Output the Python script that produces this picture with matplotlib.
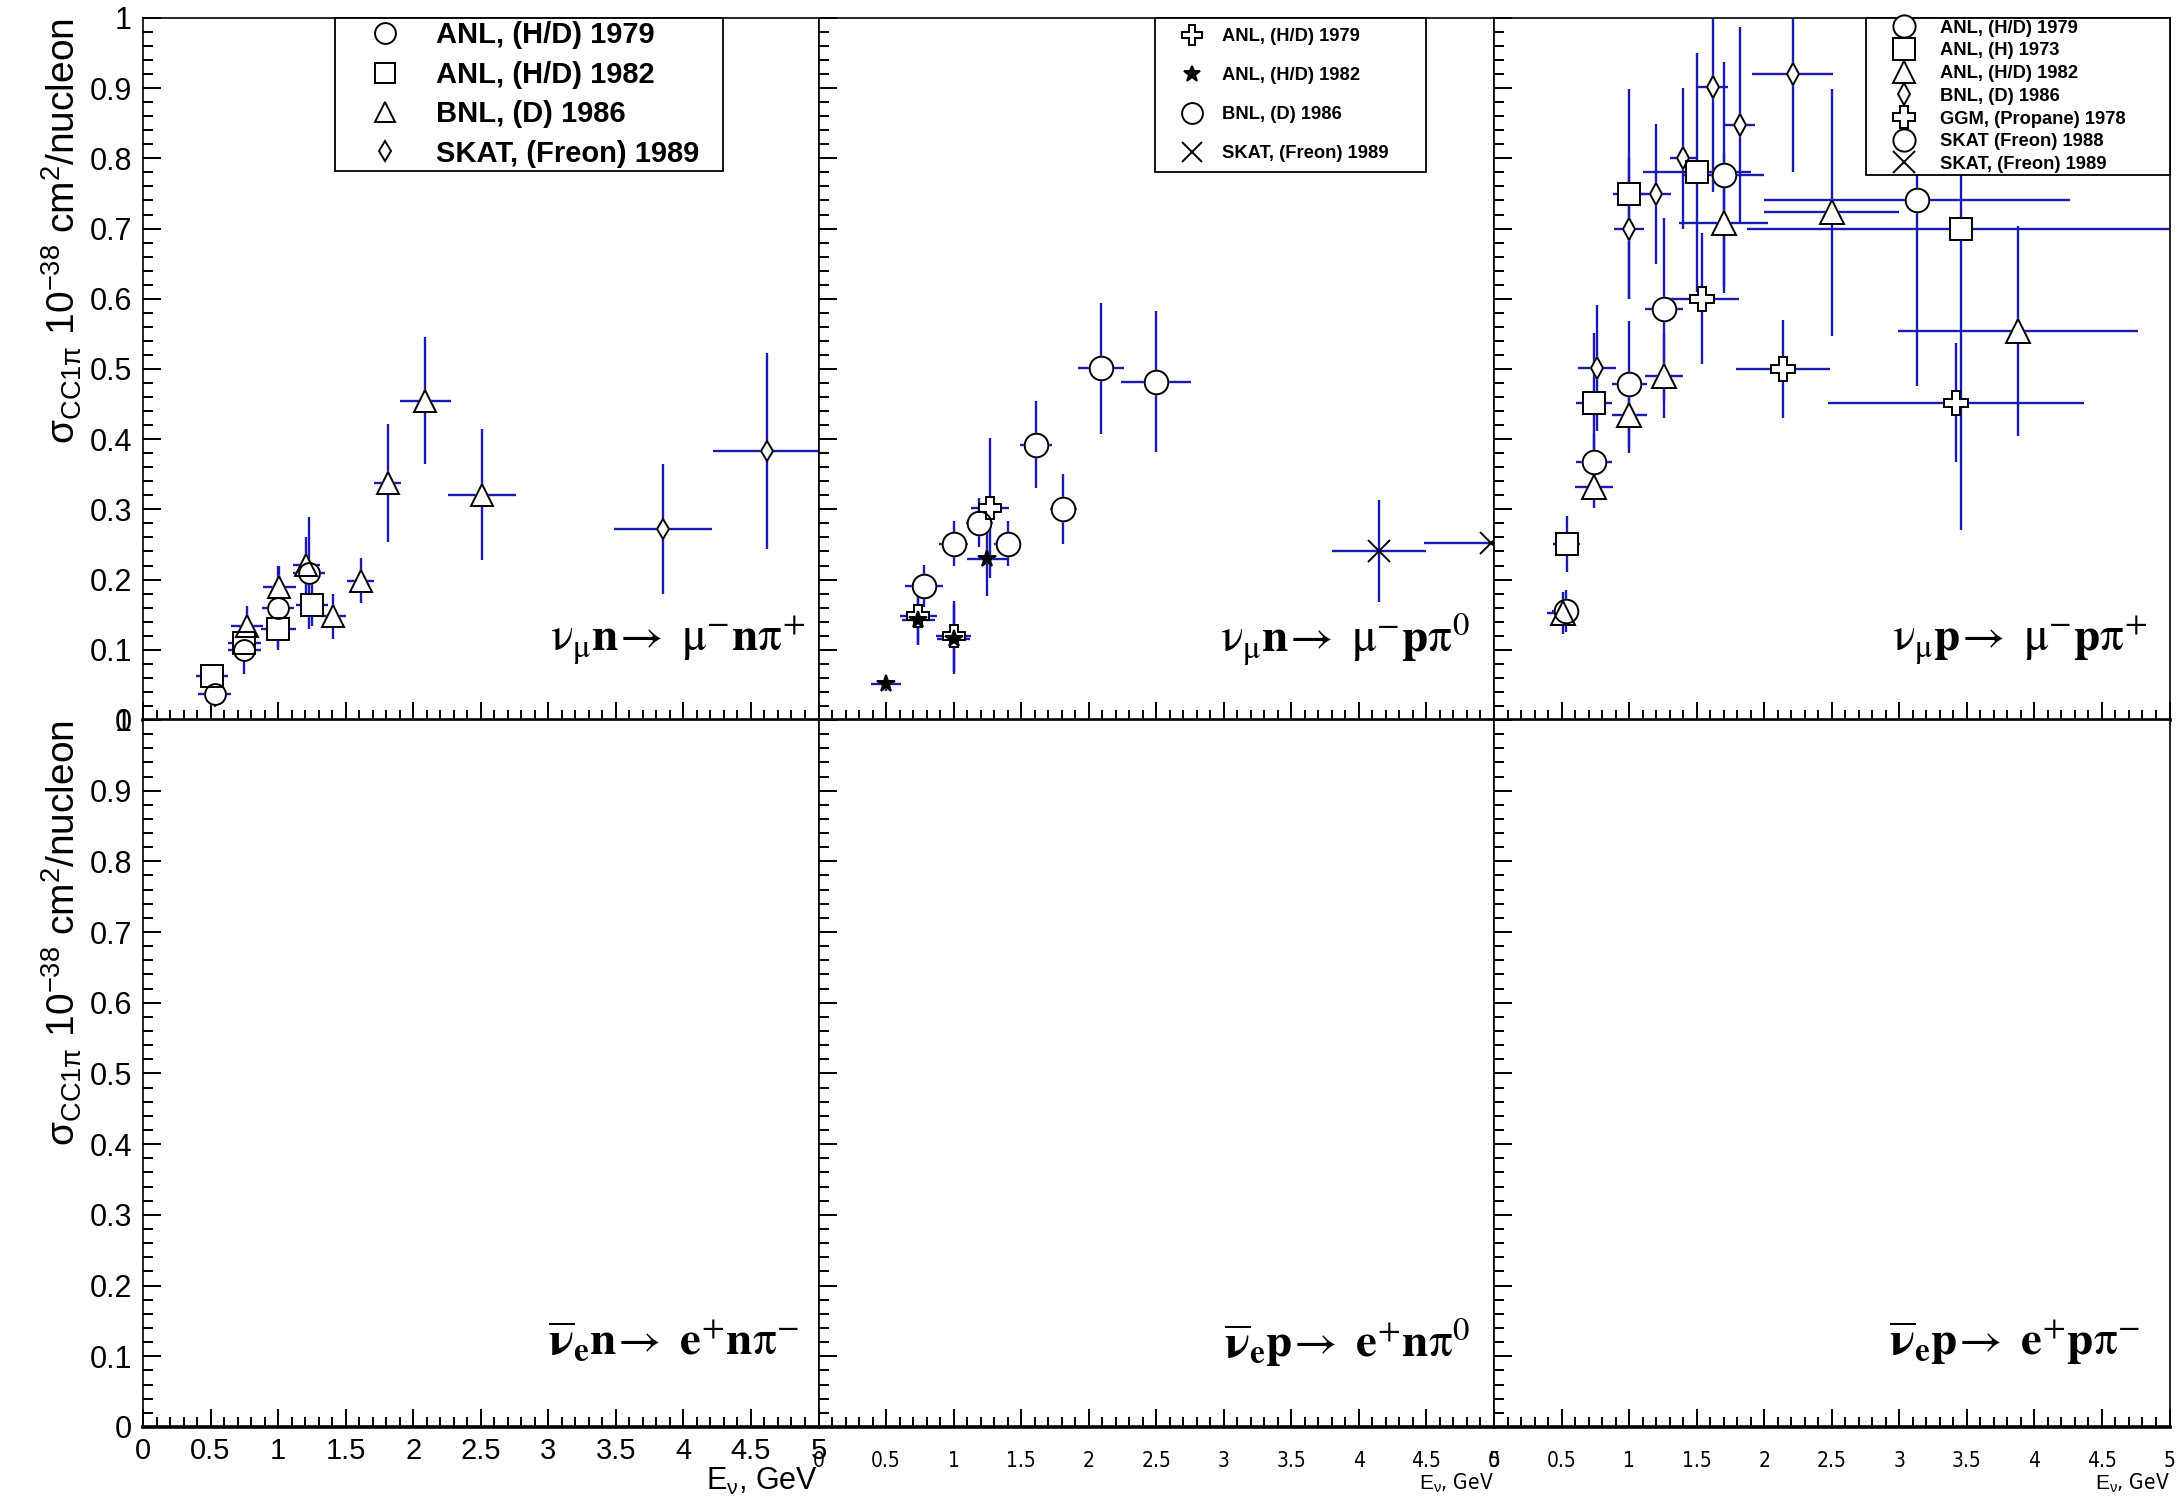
"""
CC single-pion cross sections, 2x3 panel chart (ROOT style)
"""
import matplotlib
matplotlib.use("Agg")
import matplotlib.pyplot as plt
from matplotlib import font_manager
from matplotlib.lines import Line2D
from matplotlib.ticker import MultipleLocator, FuncFormatter

# ---- values: E in GeV, sigma in 1e-38 cm^2/nucleon ----
# panel 1: nu_mu n -> mu- n pi+
p1_anl79_x = [0.53, 0.75, 1.00, 1.23]
p1_anl79_y = [0.037, 0.100, 0.160, 0.209]
p1_anl79_ex = [0.12, 0.12, 0.12, 0.12]
p1_anl79_ey = [0.018, 0.035, 0.060, 0.080]

p1_anl82_x = [0.51, 0.75, 1.00, 1.25]
p1_anl82_y = [0.062, 0.110, 0.129, 0.164]
p1_anl82_ex = [0.12, 0.12, 0.13, 0.12]
p1_anl82_ey = [0.012, 0.020, 0.025, 0.030]

p1_bnl86_x = [0.77, 1.01, 1.21, 1.41, 1.61, 1.81, 2.09, 2.51]
p1_bnl86_y = [0.134, 0.190, 0.221, 0.148, 0.198, 0.337, 0.455, 0.321]
p1_bnl86_ex = [0.12, 0.12, 0.10, 0.09, 0.10, 0.10, 0.19, 0.25]
p1_bnl86_ey = [0.028, 0.030, 0.040, 0.032, 0.032, 0.084, 0.090, 0.093]

p1_skat89_x = [3.85, 4.62]
p1_skat89_y = [0.272, 0.383]
p1_skat89_ex = [0.36, 0.40]
p1_skat89_ey = [0.092, 0.140]

# panel 2: nu_mu n -> mu- p pi0
p2_anl79_x = [0.74, 1.00, 1.27]
p2_anl79_y = [0.148, 0.119, 0.302]
p2_anl79_ex = [0.135, 0.13, 0.14]
p2_anl79_ey = [0.040, 0.050, 0.100]

p2_anl82_x = [0.50, 0.74, 1.00, 1.25]
p2_anl82_y = [0.051, 0.142, 0.115, 0.229]
p2_anl82_ex = [0.11, 0.12, 0.12, 0.15]
p2_anl82_ey = [0.010, 0.035, 0.050, 0.052]

p2_bnl86_x = [0.78, 1.00, 1.19, 1.40, 1.61, 1.81, 2.09, 2.50]
p2_bnl86_y = [0.191, 0.251, 0.281, 0.251, 0.392, 0.301, 0.501, 0.482]
p2_bnl86_ex = [0.14, 0.11, 0.10, 0.10, 0.12, 0.10, 0.17, 0.26]
p2_bnl86_ey = [0.030, 0.032, 0.035, 0.032, 0.062, 0.050, 0.093, 0.100]

p2_skat89_x = [4.15, 4.98]
p2_skat89_y = [0.241, 0.252]
p2_skat89_ex = [0.35, 0.50]
p2_skat89_ey = [0.073, 0.0]

# panel 3: nu_mu p -> mu- p pi+
p3_anl79_x = [0.53, 0.74, 1.00, 1.26, 1.70]
p3_anl79_y = [0.155, 0.367, 0.478, 0.585, 0.777]
p3_anl79_ex = [0.10, 0.13, 0.13, 0.14, 0.30]
p3_anl79_ey = [0.030, 0.040, 0.090, 0.130, 0.160]

p3_anl73_x = [0.54, 0.74, 1.00, 1.50, 3.46]
p3_anl73_y = [0.251, 0.451, 0.749, 0.780, 0.700]
p3_anl73_ex = [0.10, 0.13, 0.12, 0.40, 1.59]
p3_anl73_ey = [0.040, 0.100, 0.150, 0.170, 0.430]

p3_anl82_x = [0.51, 0.74, 1.00, 1.26, 1.70, 2.50, 3.88]
p3_anl82_y = [0.152, 0.332, 0.435, 0.490, 0.708, 0.723, 0.554]
p3_anl82_ex = [0.12, 0.14, 0.13, 0.14, 0.33, 0.50, 0.89]
p3_anl82_ey = [0.030, 0.030, 0.055, 0.060, 0.100, 0.176, 0.150]

p3_bnl86_x = [0.76, 1.00, 1.20, 1.40, 1.62, 1.82, 2.21]
p3_bnl86_y = [0.501, 0.700, 0.749, 0.800, 0.902, 0.847, 0.920]
p3_bnl86_ex = [0.14, 0.11, 0.11, 0.10, 0.115, 0.11, 0.30]
p3_bnl86_ey = [0.090, 0.100, 0.100, 0.100, 0.150, 0.140, 0.140]

p3_ggm78_x = [1.54, 2.14, 3.42]
p3_ggm78_y = [0.600, 0.500, 0.452]
p3_ggm78_ex = [0.27, 0.35, 0.95]
p3_ggm78_ey = [0.093, 0.070, 0.085]

p3_skat88_x = [3.13]
p3_skat88_y = [0.740]
p3_skat88_ex = [1.13]
p3_skat88_ey = [0.264]

p3_skat89_x = []
p3_skat89_y = []
p3_skat89_ex = []
p3_skat89_ey = []

reactions_top = [
    r'$\mathrm{\nu}_{\mathrm{\mu}}\mathbf{n}\!\rightarrow\ \mathrm{\mu}^{-}\mathbf{n}\mathrm{\pi}^{+}$',
    r'$\mathrm{\nu}_{\mathrm{\mu}}\mathbf{n}\!\rightarrow\ \mathrm{\mu}^{-}\mathbf{p}\mathrm{\pi}^{0}$',
    r'$\mathrm{\nu}_{\mathrm{\mu}}\mathbf{p}\!\rightarrow\ \mathrm{\mu}^{-}\mathbf{p}\mathrm{\pi}^{+}$',
]
reactions_bottom = [
    r'$\overline{\mathbf{\nu}}_{\mathbf{e}}\mathbf{n}\!\rightarrow\ \mathbf{e}^{+}\mathbf{n}\mathrm{\pi}^{-}$',
    r'$\overline{\mathbf{\nu}}_{\mathbf{e}}\mathbf{p}\!\rightarrow\ \mathbf{e}^{+}\mathbf{n}\mathrm{\pi}^{0}$',
    r'$\overline{\mathbf{\nu}}_{\mathbf{e}}\mathbf{p}\!\rightarrow\ \mathbf{e}^{+}\mathbf{p}\mathrm{\pi}^{-}$',
]

BLUE = '#1a1ab4'

plt.rcParams['font.family'] = ['Liberation Sans', 'DejaVu Sans']
plt.rcParams['mathtext.fontset'] = 'custom'
plt.rcParams['mathtext.rm'] = 'Liberation Sans'
plt.rcParams['mathtext.it'] = 'Liberation Sans:italic'
plt.rcParams['mathtext.bf'] = 'Liberation Sans:bold'


def narrow_font():
    names = [f.name for f in font_manager.fontManager.ttflist]
    if 'Liberation Sans Narrow' in names:
        return dict(family='Liberation Sans Narrow')
    for f in font_manager.fontManager.ttflist:
        if f.name == 'DejaVu Sans' and 'ondensed' in str(f.stretch) + f.fname:
            return dict(family='DejaVu Sans', stretch='condensed')
    return dict(family='Liberation Sans')


NARROW = narrow_font()


def draw_series(ax, x, y, ex, ey, marker, ms, filled=False):
    if len(x) == 0:
        return
    ax.errorbar(x, y, xerr=ex, yerr=ey, fmt='none', ecolor=BLUE,
                elinewidth=1.7, capsize=0, zorder=2)
    if marker != 'x':
        ax.plot(x, y, ls='none', marker=marker, ms=ms, mfc='white',
                mec='white', mew=1.3, zorder=3)
    ax.plot(x, y, ls='none', marker=marker, ms=ms,
            mfc='black' if filled else 'none', mec='black', mew=1.4, zorder=4)


def add_legend(ax, entries, bbox, fs, spacing, pad, hlen, tpad):
    handles = [Line2D([], [], ls='none', marker=m, ms=s,
                      mfc='black' if f else 'white', mec='black', mew=1.4)
               for _, m, s, f in entries]
    labels = [e[0] for e in entries]
    leg = ax.legend(handles, labels, loc='upper left', bbox_to_anchor=bbox,
                    mode='expand', borderaxespad=0, fancybox=False,
                    framealpha=1, edgecolor='black', numpoints=1,
                    labelspacing=spacing, borderpad=pad, handlelength=hlen,
                    handletextpad=tpad,
                    prop=dict(family='Liberation Sans', weight='bold', size=fs))
    leg.get_frame().set_linewidth(1.3)
    leg.set_zorder(10)


def style_axis(ax, row, col):
    ax.set_xlim(0, 5)
    ax.set_ylim(0, 1)
    ax.xaxis.set_major_locator(MultipleLocator(0.5))
    ax.xaxis.set_minor_locator(MultipleLocator(0.1))
    ax.yaxis.set_major_locator(MultipleLocator(0.1))
    ax.yaxis.set_minor_locator(MultipleLocator(0.02))
    ax.tick_params(which='both', direction='in', top=False, right=False,
                   width=1.4, color='black')
    ax.tick_params(which='major', length=13)
    ax.tick_params(which='minor', length=7)
    for side in ['left', 'right', 'top']:
        ax.spines[side].set_linewidth(1.2)
    ax.spines['bottom'].set_linewidth(2.6)
    fmt = FuncFormatter(lambda v, p: f'{v:g}')

    if col == 0:
        ax.yaxis.set_major_formatter(fmt)
        ax.tick_params(axis='y', labelsize=22, pad=8)
        ax.set_ylabel(r'$\mathrm{\sigma_{CC1\pi}}\ \mathrm{10^{-38}\ cm^{2}/nucleon}$',
                      fontsize=28, loc='top', math_fontfamily='custom')
        ax.yaxis.set_label_coords(-0.087, 1.0)
    else:
        ax.tick_params(axis='y', labelleft=False)

    if row == 0:
        ax.tick_params(axis='x', labelbottom=False)
    else:
        ax.xaxis.set_major_formatter(fmt)
        if col == 0:
            ax.tick_params(axis='x', labelsize=21, pad=7)
            ax.set_xlabel(r'$\mathrm{E_{\nu}}$, GeV', fontsize=22, loc='right',
                          labelpad=1, math_fontfamily='custom')
        else:
            ax.tick_params(axis='x', pad=17)
            for lab in ax.get_xticklabels():
                lab.set_fontproperties(font_manager.FontProperties(size=15, **NARROW))
            ax.set_xlabel(r'$\mathrm{E_{\nu}}$, GeV', fontsize=15, loc='right',
                          labelpad=1, math_fontfamily='custom', **NARROW)


fig = plt.figure(figsize=(21.79, 14.98), dpi=100)
left = 143 / 2179
width = 675.5 / 2179
axes = []
for row, (bottom, height) in enumerate([(0.5194, 0.4686), (0.0474, 0.4720)]):
    line = []
    for col in range(3):
        ax = fig.add_axes([left + col * width, bottom, width, height])
        style_axis(ax, row, col)
        line.append(ax)
    axes.append(line)

# panel 1
ax = axes[0][0]
draw_series(ax, p1_anl79_x, p1_anl79_y, p1_anl79_ex, p1_anl79_ey, 'o', 15)
draw_series(ax, p1_anl82_x, p1_anl82_y, p1_anl82_ex, p1_anl82_ey, 's', 16)
draw_series(ax, p1_bnl86_x, p1_bnl86_y, p1_bnl86_ex, p1_bnl86_ey, '^', 16)
draw_series(ax, p1_skat89_x, p1_skat89_y, p1_skat89_ex, p1_skat89_ey, 'd', 10)
add_legend(ax, [('ANL, (H/D) 1979', 'o', 15, False),
                ('ANL, (H/D) 1982', 's', 15, False),
                ('BNL, (D) 1986', '^', 15, False),
                ('SKAT, (Freon) 1989', 'd', 10, False)],
           (0.284, 0.778, 0.575, 0.222), 21, 0.39, 0.12, 3.2, 0.15)

# panel 2
ax = axes[0][1]
draw_series(ax, p2_bnl86_x, p2_bnl86_y, p2_bnl86_ex, p2_bnl86_ey, 'o', 17)
draw_series(ax, p2_anl82_x, p2_anl82_y, p2_anl82_ex, p2_anl82_ey, '*', 13, filled=True)
draw_series(ax, p2_anl79_x, p2_anl79_y, p2_anl79_ex, p2_anl79_ey, 'P', 16)
draw_series(ax, p2_skat89_x, p2_skat89_y, p2_skat89_ex, p2_skat89_ey, 'x', 16)
add_legend(ax, [('ANL, (H/D) 1979', 'P', 15, False),
                ('ANL, (H/D) 1982', '*', 12, True),
                ('BNL, (D) 1986', 'o', 15, False),
                ('SKAT, (Freon) 1989', 'x', 15, False)],
           (0.498, 0.778, 0.402, 0.222), 13.2, 1.2, 0.55, 3.0, 0.1)

# panel 3
ax = axes[0][2]
draw_series(ax, p3_anl73_x, p3_anl73_y, p3_anl73_ex, p3_anl73_ey, 's', 16)
draw_series(ax, p3_anl82_x, p3_anl82_y, p3_anl82_ex, p3_anl82_ey, '^', 17)
draw_series(ax, p3_anl79_x, p3_anl79_y, p3_anl79_ex, p3_anl79_ey, 'o', 17)
draw_series(ax, p3_bnl86_x, p3_bnl86_y, p3_bnl86_ex, p3_bnl86_ey, 'd', 11)
draw_series(ax, p3_ggm78_x, p3_ggm78_y, p3_ggm78_ex, p3_ggm78_ey, 'P', 17)
draw_series(ax, p3_skat88_x, p3_skat88_y, p3_skat88_ex, p3_skat88_ey, 'o', 17)
draw_series(ax, p3_skat89_x, p3_skat89_y, p3_skat89_ex, p3_skat89_ey, 'x', 16)
add_legend(ax, [('ANL, (H/D) 1979', 'o', 16, False),
                ('ANL, (H) 1973', 's', 16, False),
                ('ANL, (H/D) 1982', '^', 16, False),
                ('BNL, (D) 1986', 'd', 11, False),
                ('GGM, (Propane) 1978', 'P', 16, False),
                ('SKAT (Freon) 1988', 'o', 16, False),
                ('SKAT, (Freon) 1989', 'x', 16, False)],
           (0.551, 0.778, 0.449, 0.222), 13.2, 0.31, 0.1, 3.9, 0.05)

for col in range(3):
    xr = [0.981, 0.965, 0.967][col]
    axes[0][col].text(xr, 0.115, reactions_top[col], transform=axes[0][col].transAxes,
                      ha='right', va='center', fontsize=34, math_fontfamily='stix')
    xr = [0.971, 0.965, 0.957][col]
    axes[1][col].text(xr, 0.12, reactions_bottom[col], transform=axes[1][col].transAxes,
                      ha='right', va='center', fontsize=34, math_fontfamily='stix')

fig.savefig('out.png', dpi=100)
